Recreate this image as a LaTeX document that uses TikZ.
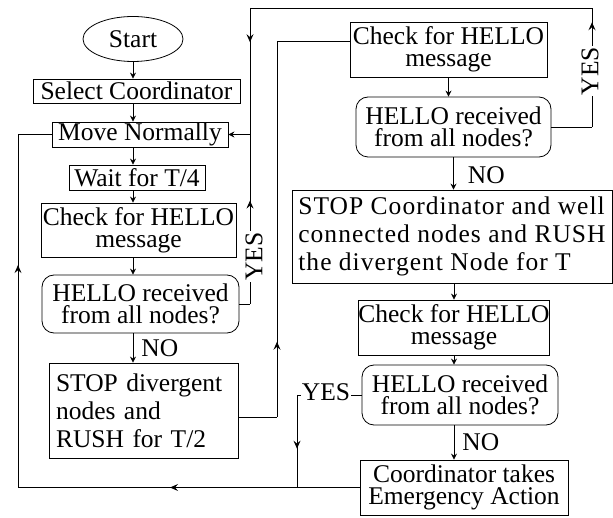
\documentclass[tikz,border=0pt]{standalone}
\usepackage{fontspec}
\setmainfont{Liberation Serif}
\usetikzlibrary{arrows.meta,shapes.geometric,decorations.markings}
\begin{document}
\begin{tikzpicture}[x=1pt,y=-1pt,
  every node/.style={font=\fontsize{25.5}{22}\selectfont},
  sz/.style 2 args={minimum width=#1pt, minimum height=#2pt},
  box/.style={draw, line width=0.8pt, inner sep=0pt, align=center},
  dec/.style={box, rounded corners=12pt},
  conn/.style={draw, line width=0.8pt},
  flow/.style={conn, -{Stealth[length=6pt,width=6pt,inset=2pt]}},
  midarr/.style={postaction={decorate,decoration={markings,mark=at position #1 with {\arrow{Stealth[length=8pt,width=7pt,inset=3pt]}}}}},
  lbl/.style={fill=white, inner sep=1pt},
  nolbl/.style={anchor=west, inner sep=0pt}
]
\useasboundingbox (0,0) rectangle (613,518);

% left column
\node[box, ellipse, sz={100}{45}] (start) at (133,39) {Start};
\node[box, sz={207}{24}] (sel) at (136.5,91) {Select Coordinator};
\node[box, sz={176}{25}] (move) at (140,134.5) {Move Normally};
\node[box, sz={136}{25}] (wait) at (137,177.5) {Wait for T/4};
\node[box, sz={195}{54}] (chk1) at (138.5,230) {Check for HELLO\\message};
\node[dec, sz={197}{58}] (dec1) at (140.5,304) {HELLO received\\from all nodes?};
\node[box, sz={189}{95}, text width=175pt, align=left, font=\fontsize{25.5}{28}\selectfont] (stop1) at (143.5,410.5) {STOP divergent\\ nodes and\\RUSH for T/2};

% right column
\node[box, sz={197}{55}] (chk2) at (448.5,49.5) {Check for HELLO\\message};
\node[dec, sz={195}{60}] (dec2) at (453.5,127) {HELLO received\\from all nodes?};
\node[box, sz={320}{93}, align=left, font=\fontsize{25.5}{28}\selectfont\addfontfeature{LetterSpace=4}] (stop2) at (452,236.5) {STOP Coordinator and well\\connected nodes and RUSH\\the divergent Node for T};
\node[box, sz={188}{55}] (chk3) at (454,327.5) {Check for HELLO\\message};
\node[dec, sz={196}{60}] (dec3) at (460,395) {HELLO received\\from all nodes?};
\node[box, sz={208}{55}] (coord) at (464,487.5) {Coordinator takes\\Emergency Action};

% junction points
\coordinate (jA) at (250,134.5);
\coordinate (jB) at (250,304);
\coordinate (tL) at (250,8);
\coordinate (tR) at (592,8);
\coordinate (jR) at (592,127);
\coordinate (kB) at (277,417);
\coordinate (kT) at (277,41);
\coordinate (mT) at (297,395);
\coordinate (mB) at (297,487.5);
\coordinate (lB) at (18,487.5);
\coordinate (lT) at (18,134.5);

% left column flow
\draw[flow] (start.south) -- (start.south |- sel.north);
\draw[flow] (sel.south -| start.south) -- (start.south |- move.north);
\draw[flow] (move.south -| start.south) -- (start.south |- wait.north);
\draw[flow] (wait.south -| start.south) -- (start.south |- chk1.north);
\draw[flow] (chk1.south -| start.south) -- (start.south |- dec1.north);
\draw[flow] (dec1.south -| start.south) -- node[nolbl, xshift=8pt]{NO} (start.south |- stop1.north);

% right column flow
\draw[flow] (chk2.south) -- (chk2.south |- dec2.north);
\draw[flow] (dec2.south) -- node[nolbl, xshift=14pt, yshift=-2pt]{NO} (dec2.south |- stop2.north);
\draw[flow] (chk3.north |- stop2.south) -- (chk3.north);
\draw[flow] (chk3.south) -- (chk3.south |- dec3.north);
\draw[flow] (dec3.south -| chk3.south) -- node[nolbl, xshift=8pt]{NO} (chk3.south |- coord.north);

% YES from left decision
\draw[conn] (dec1.east) -- (jB);
\draw[conn, midarr=0.61] (jB) -- node[pos=0.28, lbl, rotate=90, yshift=-4pt]{YES} (jA);
\draw[flow] (jA) -- (move.east);

% YES from top right decision
\draw[conn] (dec2.east) -- (jR);
\draw[conn, midarr=0.88] (jR) -- node[pos=0.47, lbl, rotate=90, yshift=2pt]{YES} (tR);
\draw[conn] (tR) -- (tL);
\draw[conn, midarr=0.27] (tL) -- (jA);

% STOP divergent -> check (right)
\draw[conn] (stop1.east |- kB) -- (kB);
\draw[conn, midarr=0.2] (kB) -- (kT);
\draw[conn] (kT) -- (chk2.west |- kT);

% YES from bottom right decision
\draw[conn] (dec3.west) -- node[pos=0.55, lbl, yshift=3pt]{YES} (mT);
\draw[conn, midarr=0.58] (mT) -- (mB);

% bottom return loop
\draw[conn] (coord.west) -- (mB);
\draw[conn, midarr=0.455] (mB) -- (lB);
\draw[conn, midarr=0.63] (lB) -- (lT);
\draw[conn] (lT) -- (move.west);
\end{tikzpicture}
\end{document}
